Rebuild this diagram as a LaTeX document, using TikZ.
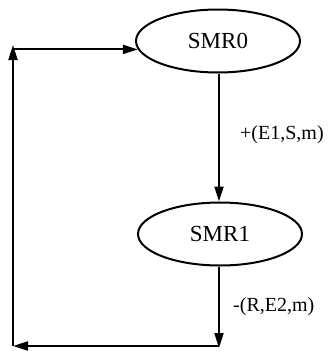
\documentclass[tikz,border=0pt]{standalone}
\usepackage{fontspec}
\setmainfont{Liberation Serif}
\usetikzlibrary{arrows.meta,shapes.geometric}

\begin{document}
\begin{tikzpicture}[x=1pt,y=-1pt,
    state/.style={draw, ellipse, line width=2pt, minimum width=164pt,
      minimum height=63pt, inner sep=0pt, font=\fontsize{23}{25}\selectfont},
    flow/.style={line width=2pt, -{Triangle[length=15pt,width=9pt]}},
    tag/.style={anchor=west, inner sep=0pt, font=\fontsize{20}{22}\selectfont}]
  \useasboundingbox (0,0) rectangle (334,351);
  % the two states
  \node[state] (smr0) at (218,41) {SMR0};
  \node[state] (smr1) at (220,234) {SMR1};
  % corners of the return loop
  \coordinate (br) at (219,348);
  \coordinate (bl) at (13,346);
  \coordinate (tl) at (13,45);
  % transitions
  \draw[flow] (smr0.south -| br) -- (smr1.north -| br);
  \draw[flow] (smr1.south -| br) -- (br);
  \draw[flow] (br |- bl) -- (bl);
  \draw[flow] (bl) -- (tl);
  \draw[flow] (bl |- smr0.186) -- (smr0.186);
  % labels
  \node[tag] (up) at (240,135) {+(E1,S,m)};
  \node[tag] (down) at (233,307) {-(R,E2,m)};
\end{tikzpicture}
\end{document}
